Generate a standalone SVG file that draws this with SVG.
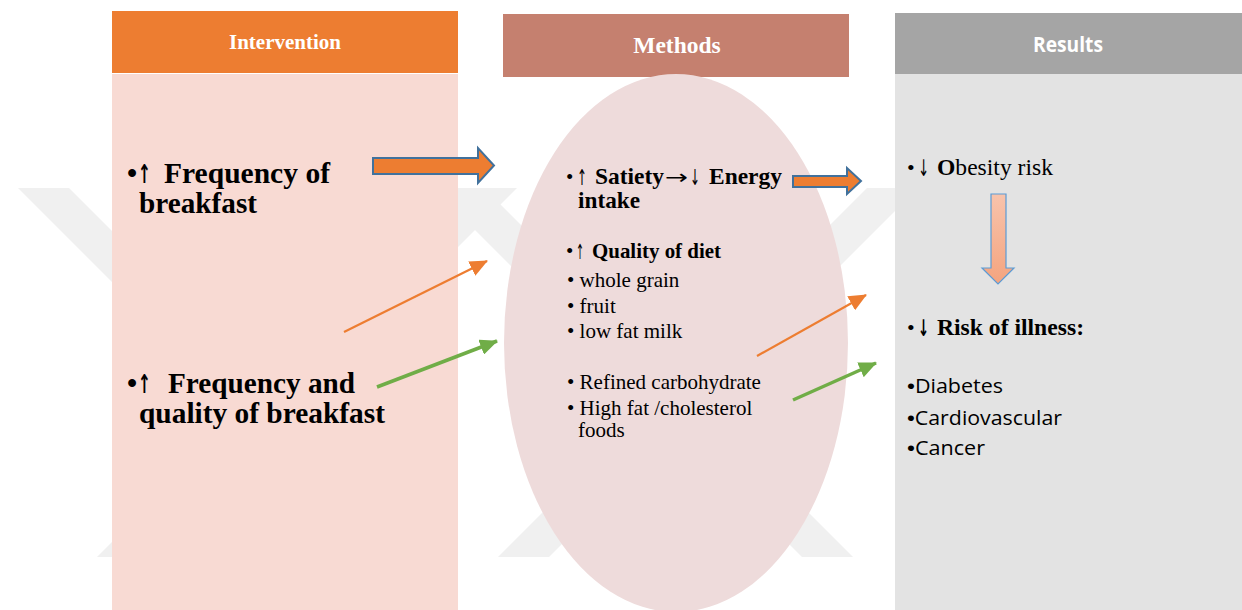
<svg xmlns="http://www.w3.org/2000/svg" width="1242" height="610" viewBox="0 0 1242 610">
<defs>
<style>
.serif{font-family:"Liberation Serif","Times New Roman","DejaVu Serif",serif;fill:#000}
.b{font-weight:bold}
.sans{font-family:"Open Sans","Noto Sans","Liberation Sans",sans-serif;fill:#000}
.arr{font-family:"DejaVu Sans","DejaVu Serif",sans-serif;fill:#000}
.blt{font-family:"Liberation Sans","DejaVu Sans",sans-serif}
.hdr{fill:#fff;text-anchor:middle;font-weight:bold}
.wm{fill:#f0f0f0}
.block{fill:#ED7D31;stroke:#41719C;stroke-width:2;stroke-linejoin:miter}
.thin-o{fill:none;stroke:#ED7D31;stroke-width:2.2}
.thin-g{fill:none;stroke:#70AD47;stroke-width:3.5}
</style>
<linearGradient id="gdown" x1="0" y1="0" x2="0" y2="1">
<stop offset="0" stop-color="#F8C3AC"/>
<stop offset="1" stop-color="#F4A47F"/>
</linearGradient>
<marker id="mo" markerUnits="userSpaceOnUse" markerWidth="18" markerHeight="16" refX="17" refY="8" orient="auto">
<path d="M0,0 L18,8 L0,16 Z" fill="#ED7D31"/>
</marker>
<marker id="mg" markerUnits="userSpaceOnUse" markerWidth="18" markerHeight="16" refX="17" refY="8" orient="auto">
<path d="M0,0 L18,8 L0,16 Z" fill="#70AD47"/>
</marker>
</defs>
<rect width="1242" height="610" fill="#fff"/>
<g id="watermark">
<polygon class="wm" points="18,188 69,188 438,557 387,557"/>
<polygon class="wm" points="466,188 517,188 148,557 97,557"/>
<polygon class="wm" points="867,188 918,188 549,557 498,557"/>
<polygon class="wm" points="433,188 484,188 853,557 802,557"/>
</g>
<g id="intervention">
<rect x="112" y="11" width="346" height="62" fill="#ED7D31"/>
<rect x="112" y="74" width="346" height="536" fill="#F8DAD3"/>
<text class="serif hdr" x="285" y="49" font-size="21">Intervention</text>
<text class="serif b" x="127" y="183" font-size="29">•</text>
<text class="arr b" x="138" y="183" font-size="26" textLength="13" lengthAdjust="spacingAndGlyphs">↑</text>
<text class="serif b" x="164" y="183" font-size="29" textLength="166" lengthAdjust="spacingAndGlyphs">Frequency of</text>
<text class="serif b" x="139" y="213" font-size="29" textLength="118" lengthAdjust="spacingAndGlyphs">breakfast</text>
<text class="serif b" x="127" y="393" font-size="29">•</text>
<text class="arr b" x="138" y="393" font-size="26" textLength="13" lengthAdjust="spacingAndGlyphs">↑</text>
<text class="serif b" x="168" y="393" font-size="29" textLength="187" lengthAdjust="spacingAndGlyphs">Frequency and</text>
<text class="serif b" x="139" y="423" font-size="29" textLength="246" lengthAdjust="spacingAndGlyphs">quality of breakfast</text>
</g>
<g id="methods">
<rect x="503" y="14" width="346" height="63" fill="#C5806F"/>
<ellipse cx="676" cy="343" rx="172" ry="269" fill="#EEDBDB"/>
<text class="serif hdr" x="677" y="53" font-size="23.5">Methods</text>
<text class="serif" x="566" y="184" font-size="21">•</text>
<text class="arr" x="577" y="185" font-size="22" textLength="10" lengthAdjust="spacingAndGlyphs">↑</text>
<text class="serif b" x="595" y="184" font-size="22.5" textLength="69" lengthAdjust="spacingAndGlyphs">Satiety</text>
<text class="arr" x="665" y="184" font-size="20" textLength="23" lengthAdjust="spacingAndGlyphs">→</text>
<text class="arr" x="690" y="185" font-size="22" textLength="10" lengthAdjust="spacingAndGlyphs">↓</text>
<text class="serif b" x="709" y="184" font-size="22.5" textLength="73" lengthAdjust="spacingAndGlyphs">Energy</text>
<text class="serif b" x="578" y="208" font-size="23" textLength="62" lengthAdjust="spacingAndGlyphs">intake</text>
<text class="serif" x="566" y="258" font-size="21">•</text>
<text class="arr" x="576" y="259" font-size="21" textLength="8" lengthAdjust="spacingAndGlyphs">↑</text>
<text class="serif b" x="592" y="258" font-size="21.5" textLength="129" lengthAdjust="spacingAndGlyphs">Quality of diet</text>
<text class="serif" x="567" y="287" font-size="21">• whole grain</text>
<text class="serif" x="567" y="313" font-size="21">•  fruit</text>
<text class="serif" x="567" y="338" font-size="21">• low fat milk</text>
<text class="serif" x="567" y="389" font-size="21">• Refined carbohydrate</text>
<text class="serif" x="567" y="415" font-size="21">• High fat /cholesterol</text>
<text class="serif" x="578" y="437" font-size="21">foods</text>
</g>
<g id="results">
<rect x="895" y="13" width="347" height="61" fill="#A5A5A5"/>
<rect x="895" y="74" width="347" height="536" fill="#E3E3E3"/>
<text class="sans hdr" x="1068" y="52" font-size="21" textLength="70" lengthAdjust="spacingAndGlyphs">Results</text>
<text class="serif" x="907" y="175" font-size="22">•</text>
<text class="arr" x="918" y="176" font-size="23" textLength="11" lengthAdjust="spacingAndGlyphs">↓</text>
<text class="serif" x="937" y="175" font-size="23" textLength="116" lengthAdjust="spacingAndGlyphs"><tspan class="b">O</tspan>besity risk</text>
<text class="serif" x="907" y="335" font-size="22">•</text>
<text class="arr b" x="918" y="336" font-size="23" textLength="11" lengthAdjust="spacingAndGlyphs">↓</text>
<text class="serif b" x="937" y="335" font-size="23" textLength="147" lengthAdjust="spacingAndGlyphs">Risk of illness:</text>
<text class="sans" x="907" y="393" font-size="20" textLength="96" lengthAdjust="spacingAndGlyphs"><tspan class="blt" font-size="21">•</tspan>Diabetes</text>
<text class="sans" x="907" y="425" font-size="20" textLength="155" lengthAdjust="spacingAndGlyphs"><tspan class="blt" font-size="21">•</tspan>Cardiovascular</text>
<text class="sans" x="907" y="455" font-size="20" textLength="78" lengthAdjust="spacingAndGlyphs"><tspan class="blt" font-size="21">•</tspan>Cancer</text>
</g>
<g id="connectors">
<path class="block" d="M373,158 L478,158 L478,148 L494,165.5 L478,183 L478,174 L373,174 Z"/>
<path class="block" d="M793,176 L847,176 L847,168 L861,181 L847,194 L847,187 L793,187 Z"/>
<path d="M991,194 L1006,194 L1006,268 L1014,268 L998,284 L982,268 L991,268 Z" fill="url(#gdown)" stroke="#5B9BD5" stroke-width="1.2"/>
<path class="thin-o" d="M344,332 L487,261" marker-end="url(#mo)"/>
<path class="thin-g" d="M377,387 L497,341" marker-end="url(#mg)"/>
<path class="thin-o" d="M757,356 L866,295" marker-end="url(#mo)"/>
<path class="thin-g" d="M793,400 L876,363" marker-end="url(#mg)"/>
</g>
</svg>
